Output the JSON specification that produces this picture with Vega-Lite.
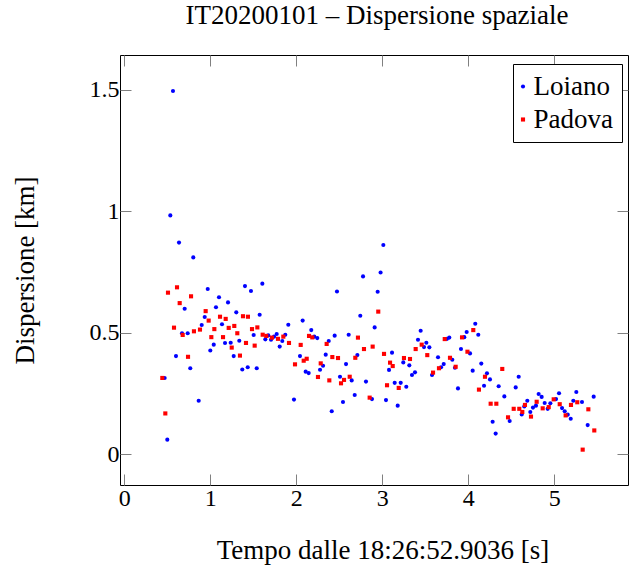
{
"$schema":"https://vega.github.io/schema/vega-lite/v6.json",
"width":508,"height":430,
"autosize":{"type":"none"},
"padding":{"left":120,"top":55,"right":1,"bottom":80},
"background":"white",
"title":{"text":"IT20200101 – Dispersione spaziale","font":"Liberation Serif","fontSize":27,"fontWeight":"normal","color":"black","baseline":"alphabetic","offset":4,"frame":"group","anchor":"middle","dx":3},
"data":{"values":[
{"s":"Loiano","t":0.566,"d":1.494},{"s":"Loiano","t":0.535,"d":0.982},{"s":"Loiano","t":0.636,"d":0.870},{"s":"Loiano","t":0.802,"d":0.809},{"s":"Loiano","t":0.970,"d":0.679},{"s":"Loiano","t":1.403,"d":0.691},{"s":"Loiano","t":1.101,"d":0.645},{"s":"Loiano","t":1.206,"d":0.624},{"s":"Loiano","t":1.066,"d":0.604},{"s":"Loiano","t":0.702,"d":0.598},{"s":"Loiano","t":1.302,"d":0.583},{"s":"Loiano","t":0.935,"d":0.564},{"s":"Loiano","t":1.136,"d":0.534},{"s":"Loiano","t":0.900,"d":0.531},{"s":"Loiano","t":0.671,"d":0.497},{"s":"Loiano","t":0.737,"d":0.497},{"s":"Loiano","t":1.337,"d":0.466},{"s":"Loiano","t":1.040,"d":0.450},{"s":"Loiano","t":1.171,"d":0.457},{"s":"Loiano","t":1.237,"d":0.458},{"s":"Loiano","t":1.000,"d":0.426},{"s":"Loiano","t":0.601,"d":0.403},{"s":"Loiano","t":1.272,"d":0.403},{"s":"Loiano","t":1.435,"d":0.357},{"s":"Loiano","t":1.372,"d":0.348},{"s":"Loiano","t":0.767,"d":0.353},{"s":"Loiano","t":0.469,"d":0.313},{"s":"Loiano","t":0.865,"d":0.219},{"s":"Loiano","t":0.500,"d":0.059},{"s":"Loiano","t":1.473,"d":0.671},{"s":"Loiano","t":1.605,"d":0.701},{"s":"Loiano","t":2.473,"d":0.669},{"s":"Loiano","t":2.776,"d":0.731},{"s":"Loiano","t":2.980,"d":0.747},{"s":"Loiano","t":3.012,"d":0.860},{"s":"Loiano","t":2.946,"d":0.668},{"s":"Loiano","t":1.574,"d":0.573},{"s":"Loiano","t":2.744,"d":0.569},{"s":"Loiano","t":1.907,"d":0.532},{"s":"Loiano","t":2.074,"d":0.549},{"s":"Loiano","t":2.911,"d":0.521},{"s":"Loiano","t":1.504,"d":0.490},{"s":"Loiano","t":1.674,"d":0.488},{"s":"Loiano","t":1.741,"d":0.483},{"s":"Loiano","t":1.772,"d":0.494},{"s":"Loiano","t":1.872,"d":0.491},{"s":"Loiano","t":1.640,"d":0.472},{"s":"Loiano","t":1.706,"d":0.470},{"s":"Loiano","t":1.837,"d":0.465},{"s":"Loiano","t":1.807,"d":0.442},{"s":"Loiano","t":2.174,"d":0.510},{"s":"Loiano","t":2.209,"d":0.483},{"s":"Loiano","t":2.244,"d":0.477},{"s":"Loiano","t":2.446,"d":0.487},{"s":"Loiano","t":2.609,"d":0.491},{"s":"Loiano","t":2.377,"d":0.465},{"s":"Loiano","t":2.043,"d":0.403},{"s":"Loiano","t":2.342,"d":0.409},{"s":"Loiano","t":2.710,"d":0.407},{"s":"Loiano","t":2.311,"d":0.363},{"s":"Loiano","t":2.276,"d":0.347},{"s":"Loiano","t":2.578,"d":0.370},{"s":"Loiano","t":1.540,"d":0.353},{"s":"Loiano","t":2.109,"d":0.339},{"s":"Loiano","t":2.144,"d":0.333},{"s":"Loiano","t":2.508,"d":0.318},{"s":"Loiano","t":2.644,"d":0.303},{"s":"Loiano","t":2.810,"d":0.298},{"s":"Loiano","t":1.973,"d":0.224},{"s":"Loiano","t":2.679,"d":0.243},{"s":"Loiano","t":2.543,"d":0.214},{"s":"Loiano","t":2.880,"d":0.226},{"s":"Loiano","t":2.412,"d":0.176},{"s":"Loiano","t":3.446,"d":0.507},{"s":"Loiano","t":3.415,"d":0.470},{"s":"Loiano","t":3.485,"d":0.440},{"s":"Loiano","t":3.512,"d":0.458},{"s":"Loiano","t":3.547,"d":0.439},{"s":"Loiano","t":3.752,"d":0.474},{"s":"Loiano","t":3.779,"d":0.479},{"s":"Loiano","t":3.953,"d":0.481},{"s":"Loiano","t":3.981,"d":0.502},{"s":"Loiano","t":4.081,"d":0.536},{"s":"Loiano","t":4.116,"d":0.491},{"s":"Loiano","t":3.915,"d":0.432},{"s":"Loiano","t":4.020,"d":0.414},{"s":"Loiano","t":3.113,"d":0.417},{"s":"Loiano","t":3.244,"d":0.377},{"s":"Loiano","t":3.314,"d":0.365},{"s":"Loiano","t":3.078,"d":0.346},{"s":"Loiano","t":3.648,"d":0.398},{"s":"Loiano","t":3.814,"d":0.388},{"s":"Loiano","t":3.714,"d":0.370},{"s":"Loiano","t":3.683,"d":0.357},{"s":"Loiano","t":3.845,"d":0.355},{"s":"Loiano","t":3.578,"d":0.325},{"s":"Loiano","t":3.380,"d":0.336},{"s":"Loiano","t":3.345,"d":0.325},{"s":"Loiano","t":4.151,"d":0.372},{"s":"Loiano","t":4.051,"d":0.343},{"s":"Loiano","t":4.217,"d":0.332},{"s":"Loiano","t":4.252,"d":0.307},{"s":"Loiano","t":4.183,"d":0.281},{"s":"Loiano","t":4.353,"d":0.279},{"s":"Loiano","t":3.880,"d":0.270},{"s":"Loiano","t":4.419,"d":0.237},{"s":"Loiano","t":3.144,"d":0.293},{"s":"Loiano","t":3.214,"d":0.293},{"s":"Loiano","t":3.279,"d":0.277},{"s":"Loiano","t":3.043,"d":0.222},{"s":"Loiano","t":3.179,"d":0.199},{"s":"Loiano","t":4.481,"d":0.136},{"s":"Loiano","t":4.283,"d":0.133},{"s":"Loiano","t":4.318,"d":0.084},{"s":"Loiano","t":4.586,"d":0.318},{"s":"Loiano","t":4.551,"d":0.274},{"s":"Loiano","t":4.818,"d":0.247},{"s":"Loiano","t":4.853,"d":0.235},{"s":"Loiano","t":5.055,"d":0.250},{"s":"Loiano","t":5.256,"d":0.255},{"s":"Loiano","t":5.458,"d":0.236},{"s":"Loiano","t":4.686,"d":0.219},{"s":"Loiano","t":4.888,"d":0.210},{"s":"Loiano","t":4.954,"d":0.209},{"s":"Loiano","t":5.020,"d":0.226},{"s":"Loiano","t":5.090,"d":0.189},{"s":"Loiano","t":5.221,"d":0.219},{"s":"Loiano","t":5.322,"d":0.214},{"s":"Loiano","t":4.651,"d":0.196},{"s":"Loiano","t":4.787,"d":0.199},{"s":"Loiano","t":4.752,"d":0.191},{"s":"Loiano","t":4.923,"d":0.186},{"s":"Loiano","t":4.621,"d":0.163},{"s":"Loiano","t":4.721,"d":0.173},{"s":"Loiano","t":5.121,"d":0.176},{"s":"Loiano","t":5.156,"d":0.162},{"s":"Loiano","t":5.191,"d":0.145},{"s":"Loiano","t":5.388,"d":0.119},
{"s":"Padova","t":0.508,"d":0.664},{"s":"Padova","t":0.613,"d":0.686},{"s":"Padova","t":0.776,"d":0.649},{"s":"Padova","t":0.644,"d":0.621},{"s":"Padova","t":0.946,"d":0.588},{"s":"Padova","t":1.380,"d":0.567},{"s":"Padova","t":1.438,"d":0.565},{"s":"Padova","t":1.113,"d":0.565},{"s":"Padova","t":1.179,"d":0.556},{"s":"Padova","t":0.981,"d":0.549},{"s":"Padova","t":1.279,"d":0.527},{"s":"Padova","t":0.578,"d":0.520},{"s":"Padova","t":1.047,"d":0.514},{"s":"Padova","t":1.214,"d":0.519},{"s":"Padova","t":0.880,"d":0.512},{"s":"Padova","t":0.810,"d":0.505},{"s":"Padova","t":0.679,"d":0.490},{"s":"Padova","t":1.314,"d":0.497},{"s":"Padova","t":1.012,"d":0.481},{"s":"Padova","t":1.148,"d":0.481},{"s":"Padova","t":1.415,"d":0.457},{"s":"Padova","t":1.249,"d":0.438},{"s":"Padova","t":0.741,"d":0.400},{"s":"Padova","t":1.345,"d":0.405},{"s":"Padova","t":0.442,"d":0.313},{"s":"Padova","t":0.477,"d":0.167},{"s":"Padova","t":2.953,"d":0.586},{"s":"Padova","t":1.485,"d":0.514},{"s":"Padova","t":1.547,"d":0.521},{"s":"Padova","t":1.609,"d":0.491},{"s":"Padova","t":1.651,"d":0.486},{"s":"Padova","t":1.717,"d":0.479},{"s":"Padova","t":1.787,"d":0.474},{"s":"Padova","t":1.849,"d":0.483},{"s":"Padova","t":1.516,"d":0.446},{"s":"Padova","t":1.915,"d":0.457},{"s":"Padova","t":2.051,"d":0.449},{"s":"Padova","t":2.148,"d":0.486},{"s":"Padova","t":2.186,"d":0.480},{"s":"Padova","t":2.353,"d":0.453},{"s":"Padova","t":2.717,"d":0.479},{"s":"Padova","t":2.787,"d":0.432},{"s":"Padova","t":2.888,"d":0.442},{"s":"Padova","t":2.121,"d":0.392},{"s":"Padova","t":2.086,"d":0.384},{"s":"Padova","t":1.985,"d":0.369},{"s":"Padova","t":2.419,"d":0.399},{"s":"Padova","t":2.485,"d":0.395},{"s":"Padova","t":2.686,"d":0.396},{"s":"Padova","t":2.284,"d":0.373},{"s":"Padova","t":2.252,"d":0.317},{"s":"Padova","t":2.384,"d":0.303},{"s":"Padova","t":2.555,"d":0.305},{"s":"Padova","t":2.520,"d":0.291},{"s":"Padova","t":2.621,"d":0.318},{"s":"Padova","t":2.853,"d":0.232},{"s":"Padova","t":3.458,"d":0.450},{"s":"Padova","t":3.388,"d":0.432},{"s":"Padova","t":3.726,"d":0.473},{"s":"Padova","t":3.927,"d":0.480},{"s":"Padova","t":4.058,"d":0.510},{"s":"Padova","t":3.990,"d":0.421},{"s":"Padova","t":3.020,"d":0.412},{"s":"Padova","t":3.252,"d":0.395},{"s":"Padova","t":3.322,"d":0.391},{"s":"Padova","t":3.090,"d":0.376},{"s":"Padova","t":3.121,"d":0.362},{"s":"Padova","t":3.523,"d":0.407},{"s":"Padova","t":3.787,"d":0.396},{"s":"Padova","t":3.659,"d":0.353},{"s":"Padova","t":3.853,"d":0.359},{"s":"Padova","t":3.590,"d":0.335},{"s":"Padova","t":4.395,"d":0.350},{"s":"Padova","t":4.194,"d":0.318},{"s":"Padova","t":4.124,"d":0.265},{"s":"Padova","t":3.055,"d":0.283},{"s":"Padova","t":3.191,"d":0.272},{"s":"Padova","t":4.260,"d":0.207},{"s":"Padova","t":4.326,"d":0.207},{"s":"Padova","t":4.462,"d":0.151},{"s":"Padova","t":4.795,"d":0.215},{"s":"Padova","t":4.993,"d":0.225},{"s":"Padova","t":5.063,"d":0.205},{"s":"Padova","t":5.194,"d":0.202},{"s":"Padova","t":5.267,"d":0.213},{"s":"Padova","t":4.659,"d":0.202},{"s":"Padova","t":4.865,"d":0.188},{"s":"Padova","t":4.935,"d":0.193},{"s":"Padova","t":4.528,"d":0.186},{"s":"Padova","t":4.593,"d":0.186},{"s":"Padova","t":4.628,"d":0.173},{"s":"Padova","t":4.729,"d":0.154},{"s":"Padova","t":5.132,"d":0.159},{"s":"Padova","t":5.396,"d":0.184},{"s":"Padova","t":5.465,"d":0.097},{"s":"Padova","t":5.330,"d":0.018}
]},
"layer":[
{"mark":{"type":"point","filled":true,"opacity":1,"strokeWidth":0,"size":17},
"encoding":{
"x":{"field":"t","type":"quantitative","scale":{"domain":[-0.05,5.857],"nice":false,"zero":false},
"axis":{"orient":"bottom","values":[0,1,2,3,4,5],"format":"~g","title":"Tempo dalle 18:26:52.9036 [s]","labelPadding":12,"titleX":262.5,"titleY":73,"titleAlign":"center","titleBaseline":"alphabetic","labelFlush":false}},
"y":{"field":"d","type":"quantitative","scale":{"domain":[-0.1275,1.642],"nice":false,"zero":false},
"axis":{"orient":"left","values":[0,0.5,1,1.5],"format":"~g","title":"Dispersione [km]","labelPadding":12,"titleX":-86.5,"titleY":215,"titleAngle":-90,"titleAlign":"center","titleBaseline":"alphabetic","labelFlush":false}},
"color":{"field":"s","type":"nominal","scale":{"domain":["Loiano","Padova"],"range":["#0000ff","#ff0000"]},"legend":{"orient":"none","legendX":393,"legendY":9,"title":null}},
"shape":{"field":"s","type":"nominal","scale":{"domain":["Loiano","Padova"],"range":["circle","square"]}}
}},
{"mark":{"type":"point","opacity":0},
"encoding":{
"x":{"field":"t","type":"quantitative","axis":{"orient":"top","values":[0,1,2,3,4,5],"labels":false,"title":null}},
"y":{"field":"d","type":"quantitative","axis":{"orient":"right","values":[0,0.5,1,1.5],"labels":false,"title":null}}
}}
],
"resolve":{"axis":{"x":"independent","y":"independent"}},
"config":{
"view":{"stroke":"black","strokeWidth":1},
"axis":{"domain":false,"grid":false,"tickColor":"#808080","tickSize":-11,"tickWidth":1,"labelFont":"Liberation Serif","labelFontSize":24,"labelColor":"black","titleFont":"Liberation Serif","titleFontSize":27,"titleFontWeight":"normal","titleColor":"black"},
"legend":{"strokeColor":"black","fillColor":"white","padding":9,"labelFont":"Liberation Serif","labelFontSize":27,"labelColor":"black","symbolStrokeWidth":0,"symbolSize":17,"symbolOffset":-12.5,"labelOffset":-3,"rowPadding":5,"cornerRadius":0,"strokeWidth":1}
}
}
